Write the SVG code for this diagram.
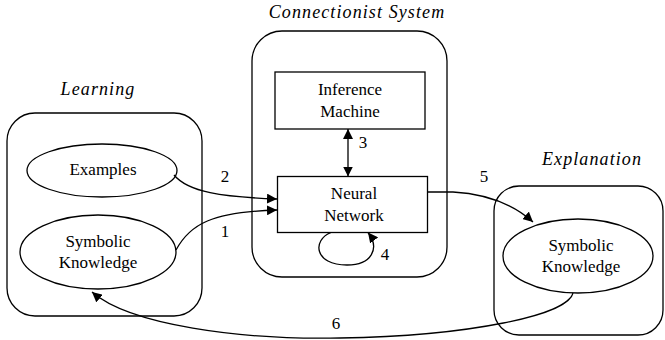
<svg xmlns="http://www.w3.org/2000/svg" width="665" height="340" viewBox="0 0 665 340">
<style>
.box{fill:none;stroke:#000;stroke-width:1.3}
.nd{fill:#fff;stroke:#000;stroke-width:1.3}
.cn{fill:none;stroke:#000;stroke-width:1.3}
text{fill:#000;text-anchor:middle}
.t{font-size:17px}
.ti{font-size:18px;font-style:italic;letter-spacing:1.1px}
</style>
<defs>
<marker id="ah" viewBox="0 0 10 10" refX="10" refY="5" markerWidth="10" markerHeight="10" markerUnits="userSpaceOnUse" orient="auto-start-reverse">
<path d="M0,0 L10,5 L0,10 z" fill="#000"/>
</marker>
</defs>
<rect width="665" height="340" fill="#fff"/>
<g font-family="Liberation Serif, Times New Roman, Times, serif">
<g id="learning">
<rect class="box" x="7" y="113" width="195" height="203" rx="28" ry="28"/>
<text class="ti" x="98" y="95">Learning</text>
</g>
<g id="connectionist-system">
<rect class="box" x="252" y="31" width="195" height="246" rx="30" ry="30"/>
<text class="ti" x="357" y="18">Connectionist System</text>
</g>
<g id="explanation">
<rect class="box" x="494" y="186" width="169" height="149" rx="25" ry="25"/>
<text class="ti" x="592" y="165">Explanation</text>
</g>
<g id="examples">
<ellipse class="nd" cx="102" cy="170.5" rx="75" ry="26.5"/>
<text class="t" x="103" y="175">Examples</text>
</g>
<g id="symbolic-knowledge-left">
<ellipse class="nd" cx="98" cy="252" rx="78" ry="37"/>
<text class="t" x="98" y="247">Symbolic</text>
<text class="t" x="98" y="268">Knowledge</text>
</g>
<g id="inference-machine">
<rect class="nd" x="275" y="72" width="150" height="57"/>
<text class="t" x="350" y="95">Inference</text>
<text class="t" x="350" y="117">Machine</text>
</g>
<g id="neural-network">
<rect class="nd" x="277.5" y="176.5" width="150" height="56"/>
<text class="t" x="354" y="199">Neural</text>
<text class="t" x="354" y="221">Network</text>
</g>
<g id="symbolic-knowledge-right">
<ellipse class="nd" cx="578" cy="256" rx="75" ry="37"/>
<text class="t" x="581" y="251">Symbolic</text>
<text class="t" x="581" y="272">Knowledge</text>
</g>
<g id="connectors">
<path class="cn" d="M174,175 C188,192 222,197 277,199" marker-end="url(#ah)"/>
<path class="cn" d="M176,250 C190,224 212,212 277,210" marker-end="url(#ah)"/>
<path class="cn" d="M348,129 L348,176.5" marker-start="url(#ah)" marker-end="url(#ah)"/>
<path class="cn" d="M331,232.5 C312,240 314,265 347,265 C372,265 380,248 368,232.5" marker-end="url(#ah)"/>
<path class="cn" d="M427.5,192 L453,192 C488,194 514,205 533,222" marker-end="url(#ah)"/>
<path class="cn" d="M573,293 C568,315 470,336 340,338 C240,340 130,325 92,292" marker-end="url(#ah)"/>
<text class="t" x="225" y="182">2</text>
<text class="t" x="225" y="237">1</text>
<text class="t" x="363" y="148">3</text>
<text class="t" x="385" y="260">4</text>
<text class="t" x="484" y="182">5</text>
<text class="t" x="336" y="329">6</text>
</g>
</g>
</svg>
